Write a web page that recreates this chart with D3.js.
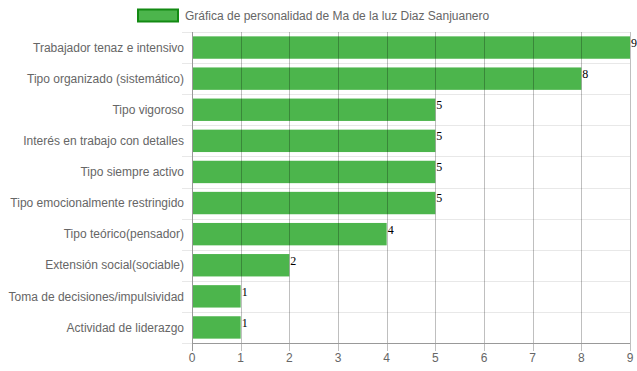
<!DOCTYPE html>
<html>
<head>
<meta charset="utf-8">
<script src="https://cdn.jsdelivr.net/npm/d3@7"></script>
<style>
  body { margin: 0; background: #fff; }
  svg text { font-family: "Liberation Sans", Arial, sans-serif; }
</style>
</head>
<body>
<div id="chart"></div>
<script>
const categories = [
    "Trabajador tenaz e intensivo",
    "Tipo organizado (sistemático)",
    "Tipo vigoroso",
    "Interés en trabajo con detalles",
    "Tipo siempre activo",
    "Tipo emocionalmente restringido",
    "Tipo teórico(pensador)",
    "Extensión social(sociable)",
    "Toma de decisiones/impulsividad",
    "Actividad de liderazgo"
];
const values = [9, 8, 5, 5, 5, 5, 4, 2, 1, 1];
const xTicks = [0, 1, 2, 3, 4, 5, 6, 7, 8, 9];
const seriesName = "Gráfica de personalidad de Ma de la luz Diaz Sanjuanero";

const margin = {top: 32, right: 7, bottom: 28, left: 192},
    width = 637 - margin.left - margin.right,
    height = 371 - margin.top - margin.bottom;

const svg = d3.select("#chart").append("svg")
    .attr("width", 637)
    .attr("height", 371);

const g = svg.append("g")
    .attr("transform", "translate(" + margin.left + "," + margin.top + ")");

const x = d3.scaleLinear()
    .domain([0, 9])
    .range([0, width]);

const y = d3.scaleBand()
    .domain(categories)
    .range([0, height])
    .paddingInner(0.28)
    .paddingOuter(0.14);

const step = y.step();

// horizontal grid lines (between categories)
g.append("g")
    .selectAll("line")
    .data(d3.range(categories.length + 1))
    .enter()
    .append("line")
    .attr("x1", -10)
    .attr("x2", width)
    .attr("y1", d => Math.round(d * height / categories.length) + 0.5)
    .attr("y2", d => Math.round(d * height / categories.length) + 0.5)
    .attr("stroke", "#e8e8e8")
    .attr("stroke-width", 1);

// bars
g.append("g")
    .selectAll("rect")
    .data(values)
    .enter()
    .append("rect")
    .attr("x", x(0))
    .attr("y", (d, i) => y(categories[i]))
    .attr("width", d => x(d))
    .attr("height", y.bandwidth())
    .attr("fill", "#4cb54c");

// vertical grid lines, drawn over bars
g.append("g")
    .selectAll("line")
    .data(xTicks)
    .enter()
    .append("line")
    .attr("x1", d => Math.round(x(d)) + 0.5)
    .attr("x2", d => Math.round(x(d)) + 0.5)
    .attr("y1", 0)
    .attr("y2", height + 8)
    .attr("stroke", d => d === 0 ? "#999" : "rgba(0,0,0,0.25)")
    .attr("stroke-width", 1);

// bottom axis line
g.append("line")
    .attr("x1", 0)
    .attr("x2", width)
    .attr("y1", height + 0.5)
    .attr("y2", height + 0.5)
    .attr("stroke", "#999");

// x tick labels
g.append("g")
    .selectAll("text")
    .data(xTicks)
    .enter()
    .append("text")
    .attr("x", d => x(d))
    .attr("y", height + 19)
    .attr("text-anchor", "middle")
    .attr("fill", "#666")
    .style("font-size", "12px")
    .text(d => d);

// category labels
g.append("g")
    .selectAll("text")
    .data(categories)
    .enter()
    .append("text")
    .attr("x", -8)
    .attr("y", d => y(d) + y.bandwidth() / 2)
    .attr("dy", "0.35em")
    .attr("text-anchor", "end")
    .attr("fill", "#666")
    .style("font-size", "12px")
    .text(d => d);

// value labels
g.append("g")
    .selectAll("text")
    .data(values)
    .enter()
    .append("text")
    .attr("x", d => x(d) + 1)
    .attr("y", (d, i) => y(categories[i]) + y.bandwidth() / 2)
    .attr("dy", "-0.05em")
    .attr("fill", "#000")
    .style("font-family", "'Liberation Serif', 'Times New Roman', serif")
    .style("font-size", "12px")
    .text(d => d);

// legend
svg.append("rect")
    .attr("x", 138)
    .attr("y", 9.5)
    .attr("width", 40)
    .attr("height", 12)
    .attr("fill", "#4cb54c")
    .attr("stroke", "#138a13")
    .attr("stroke-width", 2);

svg.append("text")
    .attr("x", 185)
    .attr("y", 15.5)
    .attr("dy", "0.35em")
    .attr("fill", "#666")
    .style("font-size", "12px")
    .text(seriesName);
</script>
</body>
</html>
